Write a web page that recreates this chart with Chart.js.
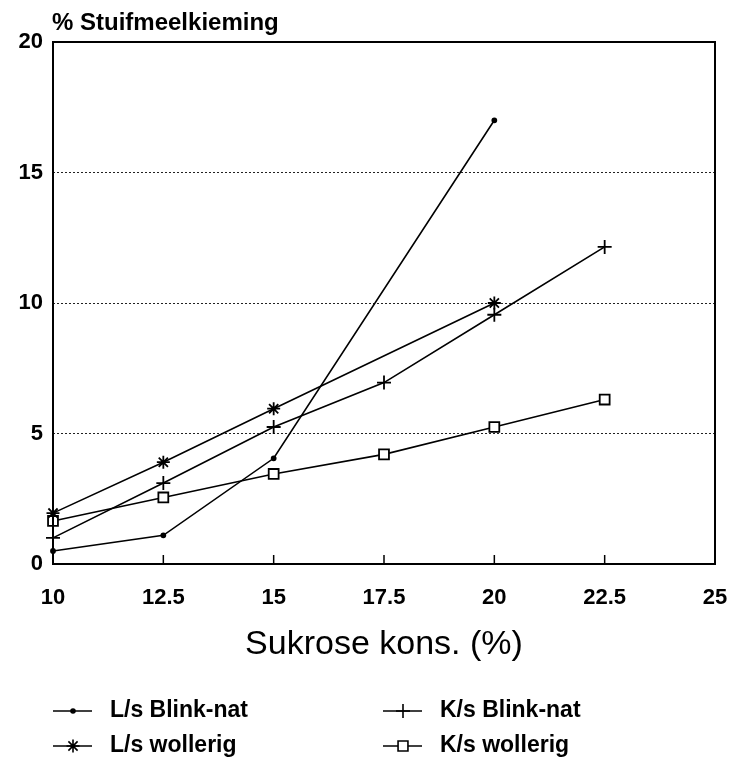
<!DOCTYPE html>
<html>
<head>
<meta charset="utf-8">
<title>Stuifmeelkieming</title>
<style>
  html, body { margin: 0; padding: 0; background: #fff; }
  canvas { display: block; }
</style>
<script src="https://cdn.jsdelivr.net/npm/chart.js@4.4.0/dist/chart.umd.min.js"></script>
</head>
<body>
<canvas id="chart" width="734" height="760"></canvas>
<script>
// --- data ---
const sucrose = [10, 12.5, 15, 17.5, 20, 22.5];
const lsBlinkNat = [0.5, 1.1, 4.05, null, 17.0, null];
const ksBlinkNat = [1.0, 3.1, 5.25, 6.95, 9.55, 12.15];
const lsWollerig = [1.95, 3.9, 5.95, null, 10.0, null];
const ksWollerig = [1.65, 2.55, 3.45, 4.2, 5.25, 6.3];
const xTicks = [10, 12.5, 15, 17.5, 20, 22.5, 25];
const yTicks = [0, 5, 10, 15, 20];
const seriesNames = ['L/s Blink-nat', 'K/s Blink-nat', 'L/s wollerig', 'K/s wollerig'];

const FONT = "'Liberation Sans', Arial, Helvetica, sans-serif";

// pair x with y, skip the missing measurements
function toPoints(values) {
    const pts = [];
    values.forEach((v, i) => {
        if (v !== null) pts.push({ x: sucrose[i], y: v });
    });
    return pts;
}

function lineSet(label, values, style, radius, fill) {
    return {
        label: label,
        data: toPoints(values),
        borderColor: '#000',
        borderWidth: 1.6,
        pointStyle: style,
        pointRadius: radius,
        pointBorderWidth: 1.8,
        pointBorderColor: '#000',
        pointBackgroundColor: fill,
        tension: 0,
        clip: false
    };
}

const datasets = [
    lineSet(seriesNames[0], lsBlinkNat, 'circle', 2, '#000'),
    lineSet(seriesNames[1], ksBlinkNat, 'cross', 7, '#000'),
    lineSet(seriesNames[2], lsWollerig, 'star', 6.5, '#000'),
    lineSet(seriesNames[3], ksWollerig, 'rect', 7, '#fff')
];

// frame, inward x ticks, title and legend
const decorations = {
    id: 'decorations',
    afterDraw(chart) {
        const ctx = chart.ctx;
        const area = chart.chartArea;
        const xs = chart.scales.x;
        ctx.save();
        ctx.strokeStyle = '#000';
        ctx.lineWidth = 2;
        ctx.strokeRect(area.left, area.top, area.right - area.left, area.bottom - area.top);

        ctx.lineWidth = 1.5;
        xTicks.slice(1, -1).forEach(v => {
            const px = xs.getPixelForValue(v);
            ctx.beginPath();
            ctx.moveTo(px, area.bottom);
            ctx.lineTo(px, area.bottom - 9);
            ctx.stroke();
        });

        ctx.fillStyle = '#000';
        ctx.font = 'bold 24px ' + FONT;
        ctx.textBaseline = 'alphabetic';
        ctx.textAlign = 'left';
        ctx.fillText('% Stuifmeelkieming', 52, 30);

        const legendPos = [
            { x: 53, y: 711 }, { x: 383, y: 711 },
            { x: 53, y: 746 }, { x: 383, y: 746 }
        ];
        ctx.font = 'bold 23px ' + FONT;
        ctx.textBaseline = 'middle';
        datasets.forEach((ds, i) => {
            const p = legendPos[i];
            ctx.strokeStyle = '#000';
            ctx.lineWidth = 1.6;
            ctx.beginPath();
            ctx.moveTo(p.x, p.y);
            ctx.lineTo(p.x + 39, p.y);
            ctx.stroke();
            ctx.fillStyle = ds.pointBackgroundColor;
            Chart.helpers.drawPoint(ctx, {
                pointStyle: ds.pointStyle,
                radius: ds.pointRadius,
                rotation: 0,
                borderWidth: 1.6
            }, p.x + 20, p.y);
            ctx.fillStyle = '#000';
            ctx.fillText(ds.label, p.x + 57, p.y);
        });
        ctx.restore();
    }
};

new Chart(document.getElementById('chart'), {
    type: 'line',
    data: { datasets: datasets },
    options: {
        responsive: false,
        animation: false,
        devicePixelRatio: 1,
        layout: { padding: { left: 0, right: 19, top: 42, bottom: 0 } },
        plugins: { legend: { display: false }, tooltip: { enabled: false } },
        scales: {
            x: {
                type: 'linear',
                min: 10,
                max: 25,
                afterBuildTicks: s => { s.ticks = xTicks.map(v => ({ value: v })); },
                afterFit: s => { s.height = 196; s.paddingLeft = 0; s.paddingRight = 0; },
                grid: { display: false, drawTicks: false },
                border: { display: false },
                ticks: {
                    color: '#000',
                    padding: 21,
                    maxRotation: 0,
                    autoSkip: false,
                    font: { family: FONT, size: 22, weight: 'bold' },
                    callback: v => String(v)
                },
                title: {
                    display: true,
                    text: 'Sukrose kons. (%)',
                    color: '#000',
                    font: { family: FONT, size: 34, weight: 'normal' },
                    padding: { top: 0, bottom: 95 }
                }
            },
            y: {
                min: 0,
                max: 20,
                afterBuildTicks: s => { s.ticks = yTicks.map(v => ({ value: v })); },
                afterFit: s => { s.width = 53; s.paddingTop = 0; s.paddingBottom = 0; },
                grid: {
                    drawTicks: false,
                    lineWidth: 1,
                    color: c => (c.tick && (c.tick.value === 0 || c.tick.value === 20)) ? 'rgba(0,0,0,0)' : '#222'
                },
                border: { display: false, dash: [2, 2] },
                ticks: {
                    color: '#000',
                    padding: 10,
                    font: { family: FONT, size: 22, weight: 'bold' }
                }
            }
        }
    },
    plugins: [decorations]
});
</script>
</body>
</html>
